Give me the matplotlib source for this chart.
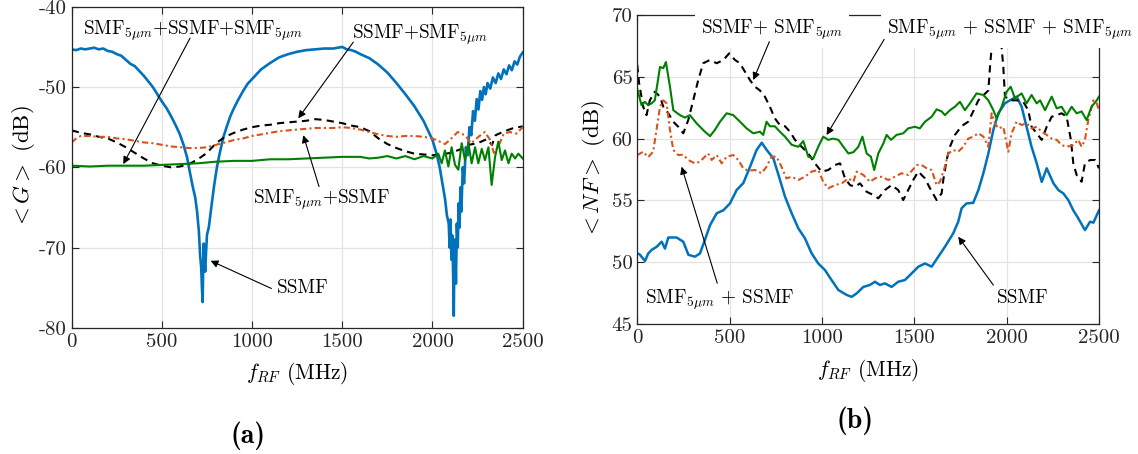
import matplotlib
matplotlib.use('Agg')
import matplotlib.pyplot as plt

plt.rcParams['font.family'] = 'cmr10'
plt.rcParams['mathtext.fontset'] = 'cm'
plt.rcParams['axes.unicode_minus'] = False
plt.rcParams['axes.formatter.use_mathtext'] = True

# ---------------- (a) gain <G> ----------------
g_ssmf_f = [0, 25, 50, 75, 100, 125, 150, 175, 200, 225, 250, 275, 300, 325, 350, 375, 400, 425, 450, 475,
            500, 525, 550, 575, 600, 620, 640, 655, 670, 685, 695, 705, 712, 718, 722, 726, 729, 732, 736, 740,
            745, 750, 760, 775, 790, 805, 820, 840, 860, 880, 900, 925, 950, 975, 1000, 1050, 1100, 1150, 1200,
            1250, 1300, 1350, 1400, 1450, 1500, 1525, 1550, 1575, 1600, 1650, 1700, 1750, 1800, 1850, 1900,
            1950, 1975, 2000, 2025, 2040, 2055, 2070, 2080, 2090, 2095, 2100, 2105, 2110, 2115, 2118, 2121,
            2125, 2130, 2135, 2140, 2145, 2150, 2155, 2160, 2168, 2175, 2185, 2195, 2205, 2215, 2225, 2235,
            2245, 2255, 2265, 2275, 2285, 2295, 2305, 2320, 2335, 2350, 2365, 2380, 2395, 2410, 2425, 2440,
            2455, 2470, 2485, 2500]
g_ssmf = [-45.3, -45.4, -45.2, -45.3, -45.2, -45.1, -45.3, -45.2, -45.5, -45.6, -45.9, -46.1, -46.6, -47.1,
          -47.4, -48.0, -48.6, -49.3, -50.0, -50.9, -51.8, -52.6, -53.6, -54.7, -55.9, -57.2, -58.8, -60.6,
          -62.3, -63.8, -65.5, -68.0, -71.0, -72.5, -75.0, -76.8, -72.0, -69.5, -71.5, -73.0, -70.5, -68.4,
          -67.5, -64.8, -62.2, -60.0, -58.3, -56.3, -54.9, -53.6, -52.6, -51.5, -50.5, -49.6, -49.0, -47.8,
          -47.0, -46.3, -45.9, -45.6, -45.4, -45.3, -45.2, -45.2, -45.0, -45.3, -45.4, -45.6, -45.9, -46.4,
          -47.2, -48.2, -49.5, -50.9, -52.4, -54.2, -55.4, -56.6, -58.5, -60.0, -62.0, -64.0, -66.0, -67.0,
          -70.0, -66.5, -71.5, -68.5, -74.0, -78.5, -72.0, -69.0, -74.5, -67.0, -70.0, -64.5, -67.5, -62.5,
          -65.5, -60.0, -62.0, -57.5, -58.5, -55.0, -56.0, -53.0, -54.2, -51.5, -52.8, -50.5, -51.6, -50.0,
          -50.9, -49.5, -50.2, -48.8, -49.5, -48.3, -49.0, -47.8, -48.4, -47.3, -47.9, -46.8, -47.2, -46.2,
          -45.7]

g_ss_f = [0, 50, 100, 150, 200, 250, 300, 350, 400, 450, 500, 550, 600, 650, 700, 750, 800, 850, 900, 950,
          1000, 1050, 1100, 1150, 1200, 1250, 1300, 1350, 1400, 1450, 1500, 1550, 1600, 1650, 1700, 1750,
          1800, 1850, 1900, 1950, 2000, 2050, 2100, 2150, 2200, 2250, 2300, 2330, 2350, 2400, 2450, 2500]
g_ss = [-55.4, -55.7, -55.9, -56.2, -56.4, -56.9, -57.5, -58.2, -58.9, -59.5, -59.8, -60.0, -59.9, -59.6,
        -59.0, -58.2, -57.0, -56.2, -55.7, -55.3, -55.0, -54.8, -54.7, -54.5, -54.4, -54.3, -54.2, -54.0,
        -54.1, -54.3, -54.5, -54.8, -55.0, -55.5, -56.4, -57.1, -57.6, -58.0, -58.3, -58.4, -58.5, -58.4,
        -58.2, -57.8, -57.2, -57.0, -56.5, -57.2, -56.0, -55.5, -55.1, -54.9]

g_s_f = [0, 25, 50, 100, 150, 200, 250, 300, 350, 400, 450, 500, 550, 600, 650, 700, 750, 800, 850, 900,
         950, 1000, 1050, 1100, 1150, 1200, 1250, 1300, 1350, 1400, 1450, 1500, 1550, 1600, 1650, 1700,
         1750, 1800, 1850, 1900, 1950, 2000, 2040, 2070, 2105, 2140, 2180, 2215, 2255, 2290, 2320, 2340,
         2365, 2395, 2430, 2465, 2500]
g_s = [-56.9, -56.4, -56.1, -56.1, -56.2, -56.2, -56.4, -56.5, -56.7, -56.9, -57.0, -57.2, -57.4, -57.5,
       -57.6, -57.6, -57.5, -57.2, -56.9, -56.6, -56.4, -56.1, -55.9, -55.7, -55.5, -55.4, -55.3, -55.2,
       -55.1, -55.1, -55.1, -55.0, -55.1, -55.3, -55.6, -55.9, -56.1, -56.2, -56.1, -56.1, -56.2, -56.4,
       -56.8, -57.1, -56.4, -55.6, -56.0, -57.0, -56.2, -55.6, -56.6, -58.2, -57.4, -55.8, -55.6, -55.8,
       -55.0]

g_sss_f = [0, 100, 200, 300, 400, 500, 600, 700, 800, 900, 1000, 1100, 1200, 1300, 1400, 1500, 1600,
           1650, 1700, 1750, 1800, 1850, 1900, 1950, 2000, 2032, 2051, 2069, 2088, 2106, 2125, 2143, 2162,
           2180, 2199, 2217, 2236, 2254, 2273, 2291, 2310, 2328, 2347, 2365, 2384, 2402, 2421, 2439, 2458,
           2476, 2500]
g_sss = [-59.8, -59.9, -59.8, -59.8, -59.8, -59.7, -59.6, -59.5, -59.3, -59.2, -59.2, -59.0, -59.0, -58.9,
         -58.8, -58.7, -58.7, -58.9, -58.8, -58.6, -58.9, -58.6, -59.0, -58.6, -58.9, -58.3, -59.5, -57.9,
         -59.9, -57.5, -59.7, -60.3, -57.0, -59.1, -57.0, -59.5, -57.5, -59.5, -57.7, -59.1, -57.5, -62.2,
         -58.7, -56.8, -59.1, -57.9, -59.5, -58.3, -58.9, -58.3, -58.9]

# ---------------- (b) noise figure <NF> ----------------
nf_ssmf_f = [0, 11, 42, 59, 78, 105, 132, 150, 168, 213, 249, 277, 312, 339, 366, 394, 430, 466, 502, 538,
             574, 610, 646, 674, 701, 737, 773, 800, 836, 872, 908, 944, 980, 1016, 1052, 1089, 1134, 1161,
             1188, 1224, 1260, 1287, 1314, 1341, 1377, 1413, 1449, 1486, 1522, 1558, 1594, 1630, 1666, 1711,
             1738, 1756, 1783, 1819, 1847, 1874, 1901, 1928, 1955, 1991, 2018, 2054, 2081, 2108, 2135, 2163,
             2190, 2217, 2253, 2280, 2307, 2334, 2361, 2388, 2424, 2452, 2470, 2500]
nf_ssmf = [50.7, 50.66, 50.1, 50.7, 51.0, 51.25, 51.66, 51.1, 52.0, 52.0, 51.66, 50.6, 50.45, 50.7, 51.8,
           53.0, 53.96, 54.2, 54.76, 55.84, 56.4, 57.7, 59.08, 59.67, 59.08, 58.4, 56.65, 55.3, 53.96, 52.74,
           51.93, 50.72, 49.9, 49.37, 48.56, 47.75, 47.35, 47.2, 47.48, 48.0, 48.16, 48.42, 48.16, 48.29,
           48.0, 48.42, 48.56, 49.1, 49.64, 49.9, 49.64, 50.45, 51.25, 52.34, 53.28, 54.36, 54.76, 54.8,
           55.84, 57.2, 58.8, 60.7, 62.05, 62.86, 63.1, 63.4, 62.6, 60.96, 59.34, 58.0, 56.5, 57.6, 56.4,
           55.84, 55.57, 55.03, 54.2, 53.55, 52.6, 53.28, 53.2, 54.2]

nf_ss_f = [0, 10, 32, 50, 68, 95, 123, 141, 168, 195, 222, 249, 276, 303, 330, 357, 393, 430, 466, 498, 529,
           556, 583, 610, 637, 664, 691, 718, 745, 772, 800, 827, 854, 890, 926, 962, 998, 1034, 1070, 1098,
           1125, 1152, 1179, 1206, 1242, 1278, 1305, 1341, 1377, 1413, 1440, 1467, 1494, 1522, 1558, 1585,
           1621, 1648, 1657, 1675, 1693, 1720, 1747, 1765, 1792, 1819, 1847, 1874, 1901, 1910, 1919, 1937,
           1955, 1970, 1982, 1991, 2018, 2054, 2090, 2117, 2135, 2163, 2190, 2217, 2244, 2271, 2298, 2325,
           2348, 2361, 2379, 2406, 2424, 2452, 2479, 2500]
nf_ss = [65.95, 64.47, 62.58, 61.9, 63.1, 63.8, 63.4, 62.58, 62.05, 61.37, 60.96, 60.43, 61.5, 63.1, 64.74,
         66.1, 66.36, 66.1, 66.36, 66.9, 66.36, 66.1, 65.41, 64.74, 64.2, 63.9, 63.4, 62.58, 61.64, 61.1,
         61.0, 60.56, 59.9, 59.34, 58.8, 58.0, 57.33, 57.46, 57.86, 58.0, 56.78, 56.24, 56.11, 56.38, 55.7,
         55.44, 55.17, 55.84, 56.24, 55.84, 55.03, 55.84, 56.65, 57.33, 56.78, 55.98, 55.03, 55.57, 56.65,
         58.27, 59.34, 60.3, 60.83, 61.1, 61.37, 62.2, 63.1, 63.5, 63.9, 65.8, 67.44, 67.57, 67.57, 67.84,
         65.8, 63.4, 63.1, 63.1, 62.98, 62.3, 60.96, 60.43, 59.9, 60.96, 61.77, 61.9, 62.05, 61.77, 59.9,
         58.0, 57.06, 56.51, 58.0, 58.27, 58.27, 57.6]

nf_s_f = [0, 32, 59, 86, 104, 123, 141, 159, 177, 195, 222, 249, 276, 312, 339, 366, 384, 403, 430, 457, 484,
          520, 547, 574, 601, 637, 673, 700, 727, 754, 781, 808, 836, 872, 908, 944, 980, 1007, 1034, 1070,
          1107, 1143, 1170, 1188, 1224, 1260, 1287, 1323, 1359, 1395, 1431, 1467, 1513, 1540, 1567, 1594,
          1621, 1639, 1666, 1684, 1711, 1738, 1765, 1792, 1819, 1847, 1874, 1901, 1919, 1937, 1955, 1982,
          2009, 2027, 2054, 2081, 2108, 2135, 2163, 2190, 2217, 2244, 2271, 2298, 2325, 2361, 2388, 2406,
          2424, 2442, 2470, 2488, 2500]
nf_s = [58.67, 58.94, 58.5, 58.94, 60.7, 62.58, 63.1, 62.85, 60.7, 59.08, 58.67, 58.7, 58.27, 58.0, 58.13,
        58.54, 58.8, 58.27, 58.67, 58.0, 58.54, 58.67, 58.27, 57.6, 57.4, 57.46, 57.2, 57.73, 58.54, 58.54,
        57.73, 56.78, 56.92, 56.65, 56.92, 57.33, 57.46, 56.51, 55.98, 56.24, 56.38, 56.78, 56.51, 57.33,
        57.06, 56.51, 56.78, 56.92, 56.65, 56.92, 57.2, 57.06, 57.86, 57.86, 57.6, 57.46, 56.24, 56.51,
        57.73, 58.8, 59.08, 58.94, 59.34, 60.0, 60.16, 60.43, 60.16, 59.34, 62.05, 61.24, 60.83, 60.96,
        58.94, 60.43, 61.37, 61.1, 61.24, 60.83, 60.96, 60.56, 60.3, 60.0, 59.9, 59.48, 59.34, 59.48, 59.9,
        59.34, 59.9, 61.5, 63.1, 62.85, 62.3]

nf_sss_f = [0, 4, 23, 41, 59, 77, 95, 123, 141, 155, 177, 195, 231, 258, 285, 321, 366, 394, 420, 448, 484,
            520, 556, 592, 628, 664, 682, 700, 718, 745, 772, 800, 836, 872, 899, 926, 953, 980, 1007, 1034,
            1061, 1089, 1116, 1143, 1170, 1197, 1219, 1242, 1265, 1283, 1305, 1332, 1350, 1374, 1404, 1440,
            1467, 1503, 1530, 1558, 1594, 1621, 1648, 1666, 1693, 1720, 1747, 1774, 1801, 1837, 1874, 1901,
            1928, 1946, 1973, 2000, 2022, 2045, 2081, 2108, 2135, 2163, 2181, 2208, 2244, 2271, 2298, 2325,
            2352, 2379, 2406, 2433, 2460, 2488, 2500]
nf_sss = [64.0, 63.8, 62.7, 62.98, 62.7, 62.85, 63.1, 65.8, 65.7, 66.2, 64.2, 62.3, 61.9, 61.7, 61.9, 61.24,
          60.56, 60.2, 60.7, 61.37, 62.05, 61.9, 61.37, 60.83, 60.43, 60.56, 60.3, 61.37, 61.0, 61.0, 60.56,
          60.16, 59.5, 59.34, 59.8, 58.54, 58.4, 59.34, 60.16, 59.9, 60.0, 59.9, 59.34, 58.8, 58.9, 59.34,
          60.16, 58.8, 58.54, 57.46, 58.8, 59.6, 60.3, 59.9, 60.3, 60.43, 60.83, 60.96, 60.83, 61.37, 61.77,
          62.37, 62.2, 61.9, 62.3, 62.58, 62.98, 62.3, 62.85, 63.66, 63.53, 63.1, 62.3, 61.64, 62.58, 63.8,
          64.2, 63.26, 63.66, 62.85, 63.53, 62.85, 63.1, 62.3, 63.4, 62.45, 62.58, 61.9, 62.58, 62.05, 62.2,
          61.5, 62.58, 63.1, 63.4]

c_blue = '#0072BD'
c_orange = '#D95319'
c_green = '#008000'

fig = plt.figure(figsize=(11.38, 4.54), dpi=100)
ax1 = fig.add_axes([0.063, 0.278, 0.3963, 0.707])
ax2 = fig.add_axes([0.560, 0.2863, 0.4057, 0.6806])

ax1.plot(g_ssmf_f, g_ssmf, color=c_blue, lw=1.9)
ax1.plot(g_ss_f, g_ss, color='k', lw=1.5, dashes=(3.5, 2.5))
ax1.plot(g_s_f, g_s, color=c_orange, lw=1.5, dashes=(3.0, 1.5, 1.0, 1.5))
ax1.plot(g_sss_f, g_sss, color=c_green, lw=1.5)

ax2.plot(nf_ssmf_f, nf_ssmf, color=c_blue, lw=1.8)
ax2.plot(nf_ss_f, nf_ss, color='k', lw=1.5, dashes=(3.5, 2.5))
ax2.plot(nf_s_f, nf_s, color=c_orange, lw=1.5, dashes=(3.0, 1.5, 1.0, 1.5))
ax2.plot(nf_sss_f, nf_sss, color=c_green, lw=1.5)

ax1.set_xlim(0, 2500)
ax1.set_ylim(-80, -40)
ax1.set_yticks([-80, -70, -60, -50, -40])
ax1.set_yticklabels(['-80', '-70', '-60', '-50', '-40'])
ax2.set_xlim(0, 2500)
ax2.set_ylim(45, 70)
ax2.set_yticks([45, 50, 55, 60, 65, 70])
ax2.set_yticklabels(['45', '50', '55', '60', '65', '70'])

for ax in (ax1, ax2):
    ax.set_xticks([0, 500, 1000, 1500, 2000, 2500])
    ax.set_xticklabels(['0', '500', '1000', '1500', '2000', '2500'])
    ax.grid(True, color='#e3e3e3', lw=0.9)
    ax.set_axisbelow(True)
    ax.tick_params(direction='in', top=True, right=True, length=5, width=0.8,
                   labelsize=15, colors='#262626', labelcolor='#262626')
    for s in ax.spines.values():
        s.set_color('#262626')
        s.set_linewidth(0.9)
    ax.set_xlabel(r'$f_{RF}$ (MHz)', fontsize=15.5, labelpad=7)

ax1.set_ylabel(r'$<G>$ (dB)', fontsize=16.5, labelpad=1)
ax2.set_ylabel(r'$<NF>$ (dB)', fontsize=16.5, labelpad=3)

tfs = 13.8
arr = dict(arrowstyle='-|>', color='k', lw=0.8, mutation_scale=11, shrinkA=0, shrinkB=0)

ax1.text(63, -43.44, r'SMF$_{5\mu m}$+SSMF+SMF$_{5\mu m}$', fontsize=tfs, va='baseline')
ax1.text(1552, -43.94, r'SSMF+SMF$_{5\mu m}$', fontsize=tfs, va='baseline')
ax1.text(1007, -64.6, r'SMF$_{5\mu m}$+SSMF', fontsize=tfs, va='baseline')
ax1.text(1137, -75.7, 'SSMF', fontsize=tfs, va='baseline')
ax1.annotate('', xy=(286, -59.6), xytext=(656, -43.9), arrowprops=arr)
ax1.annotate('', xy=(1256, -53.9), xytext=(1561, -44.4), arrowprops=arr)
ax1.annotate('', xy=(1284, -56.0), xytext=(1371, -62.4), arrowprops=arr)
ax1.annotate('', xy=(770, -71.65), xytext=(1107, -75.1), arrowprops=arr)

box = dict(boxstyle='square,pad=0.3', fc='white', ec='none')
ax2.text(345, 68.46, r'SSMF+ SMF$_{5\mu m}$', fontsize=tfs, va='baseline', bbox=box, zorder=5)
ax2.text(1352, 68.46, r'SMF$_{5\mu m}$ + SSMF + SMF$_{5\mu m}$', fontsize=tfs, va='baseline',
         bbox=box, zorder=5)
ax2.text(42, 46.67, r'SMF$_{5\mu m}$ + SSMF', fontsize=tfs, va='baseline')
ax2.text(1946, 46.72, 'SSMF', fontsize=tfs, va='baseline')
ax2.annotate('', xy=(628, 64.74), xytext=(715, 67.84), arrowprops=arr, zorder=6)
ax2.annotate('', xy=(1025, 60.29), xytext=(1337, 68.03), arrowprops=arr, zorder=6)
ax2.annotate('', xy=(240, 57.73), xytext=(433, 48.3), arrowprops=arr)
ax2.annotate('', xy=(1738, 52.06), xytext=(1928, 48.15), arrowprops=arr)

fig.text(248 / 1138, 1 - 436 / 454, '(a)', fontsize=20, fontfamily='cmb10', ha='center', va='center')
fig.text(855 / 1138, 1 - 421 / 454, '(b)', fontsize=20, fontfamily='cmb10', ha='center', va='center')

fig.savefig('out.png', dpi=100)
